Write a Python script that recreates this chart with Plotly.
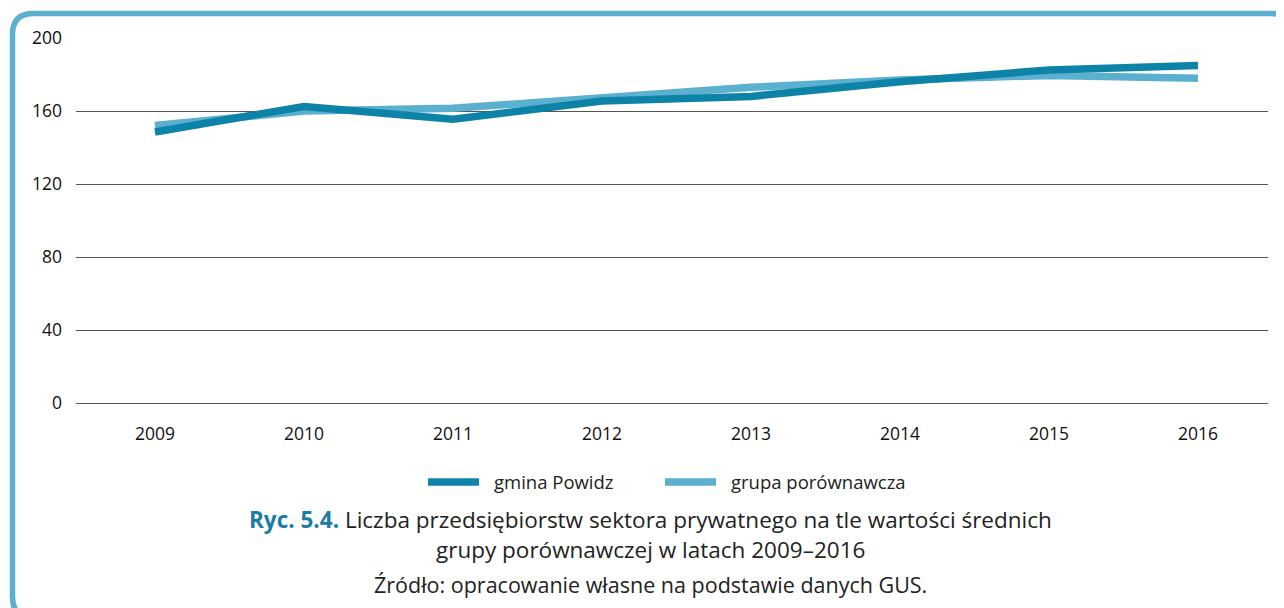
import plotly.graph_objects as go

years = ["2009", "2010", "2011", "2012", "2013", "2014", "2015", "2016"]
gmina_powidz = [148.5, 162.5, 155.5, 165.5, 168, 176, 182.5, 185]
grupa_porownawcza = [152, 160, 161.5, 167.5, 173, 177, 179.5, 178]
y_ticks = [0, 40, 80, 120, 160, 200]

DARK = "#0E83A8"
LIGHT = "#5BAFCF"
FONT = "Open Sans"

# page body has an 8px margin; figure sized to fill the rest of the window
OFF = 8
W, H = 1284 - OFF, 608 - OFF
L, R, T, B = 76 - OFF, 16, 38 - OFF, 205
pw, ph = W - L - R, H - T - B

def px(xs):
    return (xs - OFF - L) / pw

def py(ys):
    return (H - B - (ys - OFF)) / ph

fig = go.Figure()
fig.add_trace(go.Scatter(x=years, y=grupa_porownawcza, mode="lines", name="grupa porównawcza",
                         line=dict(color=LIGHT, width=7.5), showlegend=False))
fig.add_trace(go.Scatter(x=years, y=gmina_powidz, mode="lines", name="gmina Powidz",
                         line=dict(color=DARK, width=7.5), showlegend=False))

shapes = []
# frame (screen coords); right and bottom edges fall just outside the window
fl, ft, fr, fb, r = 12.5, 13.5, 1292, 618, 21
path = (f"M {px(fl + r)},{py(fb)} Q {px(fl)},{py(fb)} {px(fl)},{py(fb - r)} "
        f"L {px(fl)},{py(ft + r)} "
        f"Q {px(fl)},{py(ft)} {px(fl + r)},{py(ft)} "
        f"L {px(fr - r)},{py(ft)} "
        f"Q {px(fr)},{py(ft)} {px(fr)},{py(ft + r)}")
shapes.append(dict(type="path", xref="paper", yref="paper", path=path,
                   line=dict(color=LIGHT, width=5.5), layer="below"))
# legend symbols
shapes.append(dict(type="line", xref="paper", yref="paper", x0=px(428), x1=px(479), y0=py(482), y1=py(482),
                   line=dict(color=DARK, width=7.5)))
shapes.append(dict(type="line", xref="paper", yref="paper", x0=px(665), x1=px(716), y0=py(482), y1=py(482),
                   line=dict(color=LIGHT, width=7.5)))

annotations = [
    dict(xref="paper", yref="paper", x=px(492), y=py(481), text="gmina Powidz", showarrow=False,
         xanchor="left", yanchor="middle", font=dict(family=FONT, size=18.5, color="#222")),
    dict(xref="paper", yref="paper", x=px(729), y=py(481), text="grupa porównawcza", showarrow=False,
         xanchor="left", yanchor="middle", font=dict(family=FONT, size=18.5, color="#222")),
    dict(xref="paper", yref="paper", x=px(650), y=py(519),
         text="<b><span style='color:#1A7DA3'>Ryc. 5.4.</span></b> Liczba przedsiębiorstw sektora prywatnego na tle wartości średnich",
         showarrow=False, xanchor="center", yanchor="middle", font=dict(family=FONT, size=22.5, color="#222")),
    dict(xref="paper", yref="paper", x=px(650), y=py(549),
         text="grupy porównawczej w latach 2009–2016",
         showarrow=False, xanchor="center", yanchor="middle", font=dict(family=FONT, size=22.5, color="#222")),
    dict(xref="paper", yref="paper", x=px(650), y=py(584),
         text="Źródło: opracowanie własne na podstawie danych GUS.",
         showarrow=False, xanchor="center", yanchor="middle", font=dict(family=FONT, size=21.5, color="#222")),
]

fig.update_layout(
    width=W, height=H,
    margin=dict(l=L, r=R, t=T, b=B, pad=0),
    paper_bgcolor="white", plot_bgcolor="white",
    shapes=shapes, annotations=annotations,
    showlegend=False,
    xaxis=dict(type="category", range=[-0.53, 7.47], showgrid=False, showline=False, zeroline=False,
               ticks="", tickfont=dict(family=FONT, size=17.5, color="#111"), ticklabelstandoff=18),
    yaxis=dict(range=[0, 200], tickvals=y_ticks, showgrid=True, gridcolor="#555", gridwidth=1,
               zeroline=True, zerolinecolor="#555", zerolinewidth=1, showline=False,
               ticks="", tickfont=dict(family=FONT, size=17.5, color="#111"), ticklabelstandoff=13),
)
fig.update_traces(line_shape="linear", cliponaxis=False)
fig.write_html("out.html", config={"displayModeBar": False})
